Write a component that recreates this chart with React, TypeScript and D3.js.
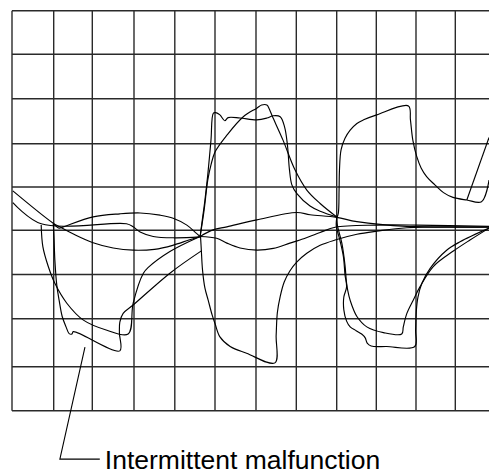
import React from "react";
import * as d3 from "d3";

// grid divisions (time across, volts up)
const timeDivs = [0, 1, 2, 3, 4, 5, 6, 7, 8, 9, 10, 11, 12];
const voltDivs = [-4, -3, -2, -1, 0, 1, 2, 3, 4, 5];

// traces, [time div, volt div]
const leftSlopeArc = [
  [0.02, 0.91], [0.98, 0.17], [1.16, 0.08], [1.55, -0.1], [2.02, -0.28], [2.5, -0.4],
  [2.98, -0.45], [3.5, -0.43], [3.95, -0.34], [4.35, -0.22], [4.63, -0.14],
];
const leftFlat = [
  [0.02, 0.64], [0.7, 0.15], [2.82, 0.15], [2.98, 0.08], [3.15, -0.04], [3.47, -0.14],
  [4.0, -0.17], [4.63, -0.15],
];
const leftUpperArc = [
  [0.99, 0.16], [1.14, 0.05], [1.25, 0.08], [2.02, 0.31], [2.66, 0.38], [3.15, 0.4],
  [3.64, 0.35], [3.96, 0.28], [4.3, 0.12], [4.54, -0.07], [4.63, -0.14],
];
const normalDip = [
  [0.7, 0.12], [0.74, -0.37], [0.87, -0.82], [1.03, -1.2], [1.34, -1.65], [1.77, -2.03],
  [2.35, -2.24], [2.86, -2.32], [2.98, -1.65], [3.23, -0.97], [3.35, -0.84], [3.88, -0.48],
  [4.63, -0.14],
];
const malfunctionDip = [
  [0.99, 0.15], [1.01, -0.22], [1.03, -0.67], [1.08, -1.24], [1.14, -1.58], [1.22, -1.95],
  [1.32, -2.17], [1.4, -2.31], [1.47, -2.32], [1.51, -2.27], [2.66, -2.67], [2.65, -2.3],
  [2.66, -2.07], [2.74, -1.88], [2.98, -1.69], [3.88, -0.97], [4.67, -0.46],
];
const spikePulse = [
  [4.63, -0.14], [4.7, 0.35], [4.75, 0.7], [4.82, 1.28], [4.9, 2.08], [4.96, 2.68],
  [5.02, 2.69], [5.12, 2.64], [5.24, 2.51], [5.32, 2.58], [5.61, 2.57], [6.02, 2.53],
  [6.27, 2.57], [6.43, 2.62], [6.6, 2.6], [6.71, 2.37], [6.78, 1.97], [6.83, 1.4],
  [6.89, 1.05], [7.02, 0.84], [7.34, 0.56], [7.59, 0.44], [8, 0.31],
];
const roundPulse = [
  [4.63, -0.14], [4.73, 0.47], [4.82, 1.16], [4.9, 1.51], [5.0, 1.81], [5.29, 2.19],
  [5.69, 2.6], [6.02, 2.79], [6.14, 2.86], [6.27, 2.86], [6.33, 2.77], [6.4, 2.62],
  [6.67, 2.08], [6.97, 1.39], [7.26, 0.93], [7.59, 0.62], [8, 0.31],
];
const midDrop = [
  [4.64, -0.14], [4.66, -0.45], [4.69, -0.9], [4.75, -1.31], [4.83, -1.58], [4.93, -1.92],
  [5.0, -2.1], [5.12, -2.38], [5.37, -2.58], [5.77, -2.72], [6.47, -2.92], [6.5, -2.35],
  [6.53, -1.86], [6.6, -1.5], [6.7, -1.17], [6.84, -0.92], [7.01, -0.72], [7.26, -0.52],
  [7.59, -0.34], [7.96, -0.22], [8.51, -0.09], [9.01, -0.02], [9.77, 0.06], [11.85, 0.07],
];
const midUpperSlope = [
  [4.63, -0.14], [4.95, 0.01], [5.29, 0.08], [6.02, 0.24], [7.01, 0.41], [7.34, 0.36],
  [8, 0.3], [8.51, 0.2], [9.77, 0.09], [11.85, 0.08],
];
const midLowerArc = [
  [4.63, -0.14], [5.04, -0.18], [5.29, -0.29], [5.61, -0.4], [6.02, -0.45], [6.43, -0.41],
  [6.84, -0.29], [7.09, -0.22], [7.59, -0.05], [7.96, 0.07], [9.01, 0.12], [10.02, 0.12],
  [11.85, 0.09],
];
const rightPulse = [
  [8, 0.28], [8.04, 0.39], [8.06, 0.93], [8.07, 1.39], [8.11, 1.86], [8.21, 2.12],
  [8.34, 2.3], [8.51, 2.45], [8.68, 2.53], [9.01, 2.64], [9.81, 2.84], [9.86, 2.53],
  [9.92, 2.08], [10.02, 1.7], [10.13, 1.44], [10.27, 1.24], [10.48, 1.05], [10.7, 0.87],
  [10.94, 0.76], [11.29, 0.7], [11.66, 0.66], [11.85, 1.16],
];
const rightEdgeRise = [[11.29, 0.7], [11.85, 2.14]];
const rightDropNotch = [
  [8, 0.28], [7.99, 0.1], [8.08, -0.22], [8.17, -0.6], [8.21, -1.01], [8.25, -1.28],
  [8.18, -1.51], [8.18, -1.8], [8.25, -2.05], [8.34, -2.17], [8.49, -2.25], [8.63, -2.32],
  [8.72, -2.4], [8.77, -2.51], [8.87, -2.57], [9.26, -2.58], [9.97, -2.58], [9.99, -2.24],
  [10.01, -1.8], [10.05, -1.51], [10.15, -1.2], [10.36, -0.86], [10.78, -0.45],
  [11.12, -0.26], [11.85, 0.05],
];
const rightDrop = [
  [8, 0.28], [8.02, 0.1], [8.13, -0.29], [8.21, -0.79], [8.25, -1.2], [8.31, -1.49],
  [8.38, -1.69], [8.51, -1.95], [8.76, -2.17], [9.18, -2.29], [9.64, -2.32], [9.68, -2.17],
  [9.77, -1.88], [9.93, -1.58], [10.1, -1.28], [10.44, -0.82], [10.95, -0.47],
  [11.37, -0.22], [11.85, 0.05],
];

const traces = [
  leftSlopeArc, leftFlat, leftUpperArc, normalDip, malfunctionDip, spikePulse, roundPulse,
  midDrop, midUpperSlope, midLowerArc, rightPulse, rightEdgeRise, rightDropNotch, rightDrop,
];

const calloutLabel = "Intermittent malfunction";
const calloutPath = [[1.81, -2.59], [1.16, -5.1], [2.18, -5.1]];

export default function App() {
  const width = 489;
  const height = 472;

  // grid is hand drawn, so the divisions are not perfectly even
  const x = d3
    .scaleLinear()
    .domain(timeDivs)
    .range([12, 53.7, 92.3, 134, 174.8, 215, 256, 296.3, 336.7, 376.3, 416, 455.3, 495]);
  const y = d3
    .scaleLinear()
    .domain(voltDivs)
    .range([410.7, 366.7, 318.7, 274.5, 230.3, 187, 143.7, 98.7, 54.3, 10.7]);

  const trace = d3
    .line<number[]>()
    .x((d) => x(d[0]))
    .y((d) => y(d[1]))
    .curve(d3.curveCatmullRom.alpha(0.5));

  const leader = d3
    .line<number[]>()
    .x((d) => x(d[0]))
    .y((d) => y(d[1]));

  const yTop = y(d3.max(voltDivs)!);
  const yBottom = y(d3.min(voltDivs)!);
  const xLeft = x(d3.min(timeDivs)!);
  const xRight = x(d3.max(timeDivs)!);
  const end = calloutPath[calloutPath.length - 1];

  return (
    <svg
      width={width}
      height={height}
      style={{ position: "absolute", left: 0, top: 0, background: "#fff" }}
    >
      <g stroke="#2a2a2a" strokeWidth={1.4}>
        {timeDivs.map((t) => (
          <line key={"v" + t} x1={x(t)} x2={x(t)} y1={yTop} y2={yBottom} />
        ))}
        {voltDivs.map((v) => (
          <line key={"h" + v} x1={xLeft} x2={xRight} y1={y(v)} y2={y(v)} />
        ))}
      </g>
      <g fill="none" stroke="#000" strokeWidth={1.15} strokeLinejoin="round">
        {traces.map((d, i) => (
          <path key={i} d={trace(d) || ""} />
        ))}
      </g>
      <path d={leader(calloutPath) || ""} fill="none" stroke="#000" strokeWidth={1.1} />
      <text
        x={x(end[0]) + 5}
        y={y(end[1]) + 10}
        fontFamily="'Liberation Sans', Arial, sans-serif"
        fontSize={26.5}
        fill="#000"
      >
        {calloutLabel}
      </text>
    </svg>
  );
}
